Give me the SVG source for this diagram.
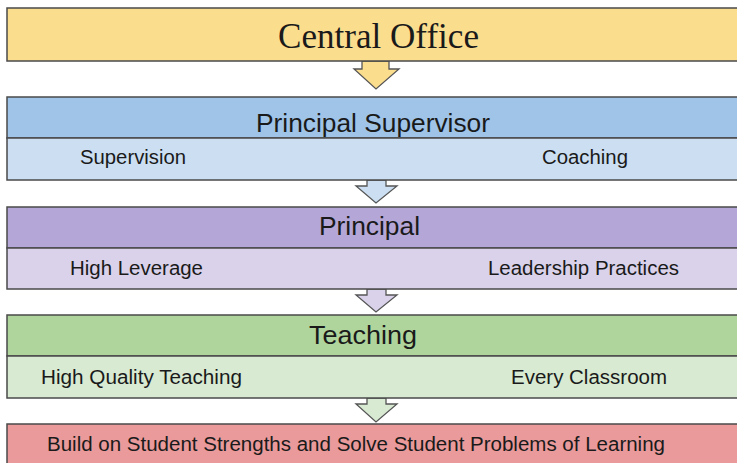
<svg xmlns="http://www.w3.org/2000/svg" width="737" height="463" viewBox="0 0 737 463">
<style>
.box{stroke:#4a4a4a;stroke-width:1.5}
.arr{stroke:#555;stroke-width:1.3;stroke-linejoin:miter}
.h{font-family:"Liberation Sans",Arial,sans-serif;font-size:25px;fill:#1a1a1a}
.s{font-family:"Liberation Sans",Arial,sans-serif;font-size:19.5px;fill:#1a1a1a}
.t{font-family:"Liberation Serif","Times New Roman",serif;font-size:35px;fill:#1a1a1a}
</style>
<rect width="737" height="463" fill="#ffffff"/>
<g id="connectors">
<path class="arr" fill="#FBDD8E" d="M362,61 L389,61 L389,69 L399,69 L376,89 L354,69 L362,69 Z"/>
<path class="arr" fill="#CCDFF2" d="M367,180 L386,180 L386,186 L397,186 L376,203 L356,186 L367,186 Z"/>
<path class="arr" fill="#D9D2EA" d="M367,289 L386,289 L386,295 L397,295 L376,312 L356,295 L367,295 Z"/>
<path class="arr" fill="#D8EAD2" d="M367,398 L386,398 L386,404 L397,404 L376,422 L356,404 L367,404 Z"/>
</g>
<g id="central-office">
<rect class="box" x="7" y="8" width="740" height="53" fill="#FBDD8E"/>
<text class="t" x="278" y="48" textLength="201" lengthAdjust="spacingAndGlyphs">Central Office</text>
</g>
<g id="principal-supervisor">
<rect class="box" x="7" y="97" width="740" height="41" fill="#9FC4E8"/>
<rect class="box" x="7" y="138" width="740" height="42" fill="#CCDFF2"/>
<text class="h" x="256" y="132" textLength="234" lengthAdjust="spacingAndGlyphs">Principal Supervisor</text>
<text class="s" x="80" y="164" textLength="106" lengthAdjust="spacingAndGlyphs">Supervision</text>
<text class="s" x="542" y="164" textLength="86" lengthAdjust="spacingAndGlyphs">Coaching</text>
</g>
<g id="principal">
<rect class="box" x="7" y="207" width="740" height="41" fill="#B4A7D7"/>
<rect class="box" x="7" y="248" width="740" height="41" fill="#D9D2EA"/>
<text class="h" x="319" y="235" textLength="101" lengthAdjust="spacingAndGlyphs">Principal</text>
<text class="s" x="70" y="275" textLength="133" lengthAdjust="spacingAndGlyphs">High Leverage</text>
<text class="s" x="488" y="275" textLength="191" lengthAdjust="spacingAndGlyphs">Leadership Practices</text>
</g>
<g id="teaching">
<rect class="box" x="7" y="315" width="740" height="41" fill="#AFD59D"/>
<rect class="box" x="7" y="356" width="740" height="42" fill="#D8EAD2"/>
<text class="h" x="309" y="344" textLength="108" lengthAdjust="spacingAndGlyphs">Teaching</text>
<text class="s" x="41" y="384" textLength="201" lengthAdjust="spacingAndGlyphs">High Quality Teaching</text>
<text class="s" x="511" y="384" textLength="156" lengthAdjust="spacingAndGlyphs">Every Classroom</text>
</g>
<g id="outcome">
<rect class="box" x="7" y="424" width="740" height="50" fill="#EA9A9A"/>
<text class="s" x="47" y="451" textLength="618" lengthAdjust="spacingAndGlyphs">Build on Student Strengths and Solve Student Problems of Learning</text>
</g>
</svg>
